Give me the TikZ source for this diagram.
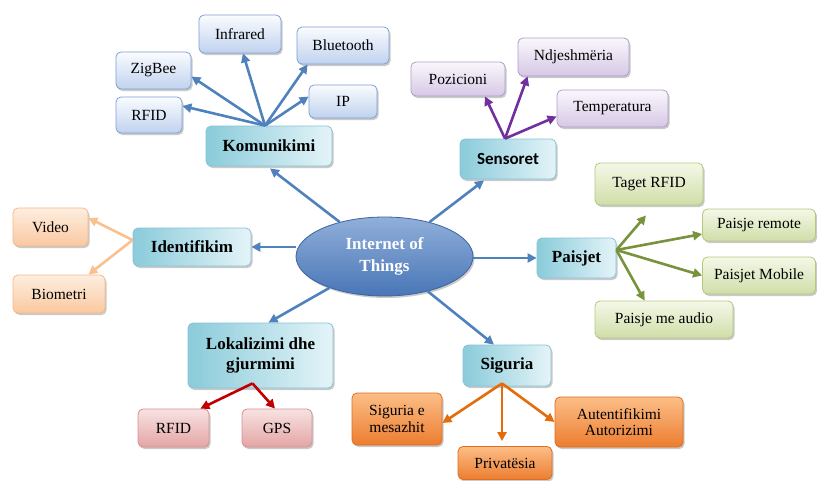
\documentclass[tikz,border=0pt]{standalone}
\usepackage{fontspec}
\setmainfont{Liberation Serif}
\newfontfamily\carlito{Carlito}
\usetikzlibrary{shapes.geometric,shadows,arrows.meta,calc}
\definecolor{arrblue}{RGB}{79,129,189}
\definecolor{mainA}{RGB}{138,203,218}
\definecolor{mainB}{RGB}{228,244,248}
\definecolor{mainD}{RGB}{135,195,212}
\definecolor{blueT}{RGB}{250,252,255}
\definecolor{blueB}{RGB}{192,210,238}
\definecolor{blueD}{RGB}{126,160,210}
\definecolor{purT}{RGB}{250,247,252}
\definecolor{purB}{RGB}{214,200,230}
\definecolor{purD}{RGB}{175,158,200}
\definecolor{peaT}{RGB}{254,238,224}
\definecolor{peaB}{RGB}{250,200,160}
\definecolor{peaD}{RGB}{245,185,140}
\definecolor{grnT}{RGB}{244,248,232}
\definecolor{grnB}{RGB}{208,222,168}
\definecolor{grnD}{RGB}{180,200,125}
\definecolor{redT}{RGB}{248,226,226}
\definecolor{redB}{RGB}{228,165,165}
\definecolor{redD}{RGB}{212,145,145}
\definecolor{orT}{RGB}{252,190,135}
\definecolor{orB}{RGB}{236,125,48}
\definecolor{orD}{RGB}{220,110,30}
\definecolor{arrpur}{RGB}{112,48,160}
\definecolor{arrpea}{RGB}{250,192,144}
\definecolor{arrgrn}{RGB}{119,147,60}
\definecolor{arrred}{RGB}{192,0,0}
\definecolor{arror}{RGB}{228,108,10}
\definecolor{iotA}{RGB}{145,175,218}
\definecolor{iotB}{RGB}{72,118,182}
\definecolor{iotD}{RGB}{60,100,160}
\tikzset{
  basebox/.style={rounded corners=5pt, draw, line width=0.8pt, align=center, inner sep=2pt,
    drop shadow={shadow xshift=1.5pt, shadow yshift=-2pt, opacity=0.35, fill=black!60}},
  leafbox/.style={basebox, font=\fontsize{15.5}{17}\selectfont},
  hubbox/.style={basebox, font=\fontsize{17}{20}\selectfont\bfseries, left color=mainA, right color=mainB, draw=mainD},
  blueleaf/.style={leafbox, top color=blueT, bottom color=blueB, draw=blueD},
  purleaf/.style={leafbox, top color=purT, bottom color=purB, draw=purD},
  pealeaf/.style={leafbox, top color=peaT, bottom color=peaB, draw=peaD},
  grnleaf/.style={leafbox, top color=grnT, bottom color=grnB, draw=grnD},
  redleaf/.style={leafbox, top color=redT, bottom color=redB, draw=redD},
  orleaf/.style={leafbox, top color=orT, bottom color=orB, draw=orD},
  conn/.style={line width=2.6pt, -{Triangle[length=9pt,width=9pt]}},
  bx/.style 2 args={minimum width=#1pt, minimum height=#2pt},
}
\begin{document}
\begin{tikzpicture}[x=1pt,y=-1pt]
\useasboundingbox (0,0) rectangle (817,480);
% center
\node[ellipse, draw=iotD, line width=0.8pt, top color=iotA, bottom color=iotB, minimum width=177pt, minimum height=79pt,
  font=\fontsize{17}{22}\selectfont\bfseries, text=white, align=center,
  drop shadow={shadow xshift=1.5pt, shadow yshift=-2pt, opacity=0.35, fill=black!60}] (iot) at (384.5,256.5) {Internet of\\Things};
% hubs
\node[hubbox, bx={126}{40}] (kom) at (269,146) {Komunikimi};
\node[hubbox, bx={96}{40}, font=\fontsize{17}{20}\selectfont\carlito\bfseries] (sen) at (508,159) {Sensoret};
\node[hubbox, bx={118}{38}] (ide) at (192,247) {Identifikim};
\node[hubbox, bx={79}{40}] (pai) at (576.5,258) {Paisjet};
\node[hubbox, bx={145}{65}] (lok) at (260.5,355.5) {Lokalizimi dhe\\gjurmimi};
\node[hubbox, bx={88}{41}] (sig) at (507,365.5) {Siguria};
% komunikimi leaves
\node[blueleaf, bx={82}{38}] (inf) at (240,34) {Infrared};
\node[blueleaf, bx={92}{37}] (blu) at (343,45.5) {Bluetooth};
\node[blueleaf, bx={75}{37}] (zig) at (153.5,70.5) {ZigBee};
\node[blueleaf, bx={66}{36}] (rfa) at (149,115) {RFID};
\node[blueleaf, bx={68}{33}] (ip) at (343,101.5) {IP};
% sensoret leaves
\node[purleaf, bx={94}{34}] (poz) at (458,79) {Pozicioni};
\node[purleaf, bx={111}{38}] (ndj) at (573.5,57) {Ndjeshmëria};
\node[purleaf, bx={111}{37}] (tem) at (612.5,108.5) {Temperatura};
% identifikim leaves
\node[pealeaf, bx={75}{38}] (vid) at (50.5,227) {Video};
\node[pealeaf, bx={92}{38}] (bio) at (59,294) {Biometri};
% paisjet leaves
\node[grnleaf, bx={108}{42}] (tag) at (649,184) {Taget RFID};
\node[grnleaf, bx={113}{32}] (rem) at (759,225) {Paisje remote};
\node[grnleaf, bx={113}{37}] (mob) at (759,275.5) {Paisjet Mobile};
\node[grnleaf, bx={138}{37}] (aud) at (664,319.5) {Paisje me audio};
% lokalizimi leaves
\node[redleaf, bx={71}{38}] (rfb) at (173.5,428) {RFID};
\node[redleaf, bx={70}{38}] (gps) at (277,428) {GPS};
% siguria leaves
\node[orleaf, bx={90}{52}, font=\fontsize{15.5}{16.5}\selectfont] (mes) at (397,419) {Siguria e\\mesazhit};
\node[orleaf, bx={94}{33}] (pri) at (505,463) {Privatësia};
\node[orleaf, bx={128}{50}, font=\fontsize{15.5}{16.5}\selectfont] (aut) at (619,422) {Autentifikimi\\Autorizimi};
% center connectors
\draw[conn, arrblue] (iot) -- ([xshift=1pt,yshift=-2pt]kom.south);
\draw[conn, arrblue] (iot) -- ([xshift=-24pt,yshift=-1pt]sen.south);
\draw[conn, arrblue] (ide.east -| iot.west) -- (ide.east);
\draw[conn, arrblue] (pai.west -| iot.east) -- (pai.west);
\draw[conn, arrblue] (iot) -- ([xshift=8pt]lok.north);
\draw[conn, arrblue] (iot) -- ([xshift=-13pt]sig.north);
% komunikimi
\coordinate (ko) at ([xshift=-4pt]kom.north);
\draw[conn, arrblue] (ko) -- ([xshift=3pt]inf.south);
\draw[conn, arrblue] (ko) -- ([xshift=11pt]blu.south west);
\draw[conn, arrblue] (ko) -- ([yshift=-6pt]zig.east);
\draw[conn, arrblue] (ko) -- ([yshift=9pt]rfa.east);
\draw[conn, arrblue] (ko) -- ([yshift=5pt]ip.west);
% sensoret
\coordinate (so) at ([xshift=-3pt]sen.north);
\draw[conn, arrpur] (so) -- ([xshift=27pt]poz.south);
\draw[conn, arrpur] (so) -- ([xshift=10pt]ndj.south west);
\draw[conn, arrpur] (so) -- ([yshift=-8pt]tem.west);
% identifikim
\coordinate (io) at ([yshift=7pt]ide.west);
\draw[conn, arrpea] (io) -- ([yshift=9pt]vid.east);
\draw[conn, arrpea] (io) -- ([xshift=-17pt]bio.north east);
% paisjet
\coordinate (po) at ([yshift=8pt]pai.east);
\draw[conn, arrgrn] (po) -- ([xshift=-3pt,yshift=-10pt]tag.south);
\draw[conn, arrgrn] (po) -- ([yshift=-9pt]rem.west);
\draw[conn, arrgrn] (po) -- (mob.west);
\draw[conn, arrgrn] (po) -- ([xshift=50pt]aud.north west);
% lokalizimi
\coordinate (lo) at ([xshift=-8pt,yshift=5pt]lok.south);
\draw[conn, arrred] (lo) -- ([xshift=-9pt]rfb.north east);
\draw[conn, arrred] (lo) -- ([xshift=-2pt]gps.north);
% siguria
\coordinate (sio) at ([xshift=-5pt,yshift=3pt]sig.south);
\draw[conn, arror] (sio) -- ([yshift=-4pt]mes.east);
\draw[conn, arror] (sio) -- ([xshift=-3pt,yshift=5pt]pri.north);
\draw[conn, arror] (sio) -- (aut.west);
\end{tikzpicture}
\end{document}
